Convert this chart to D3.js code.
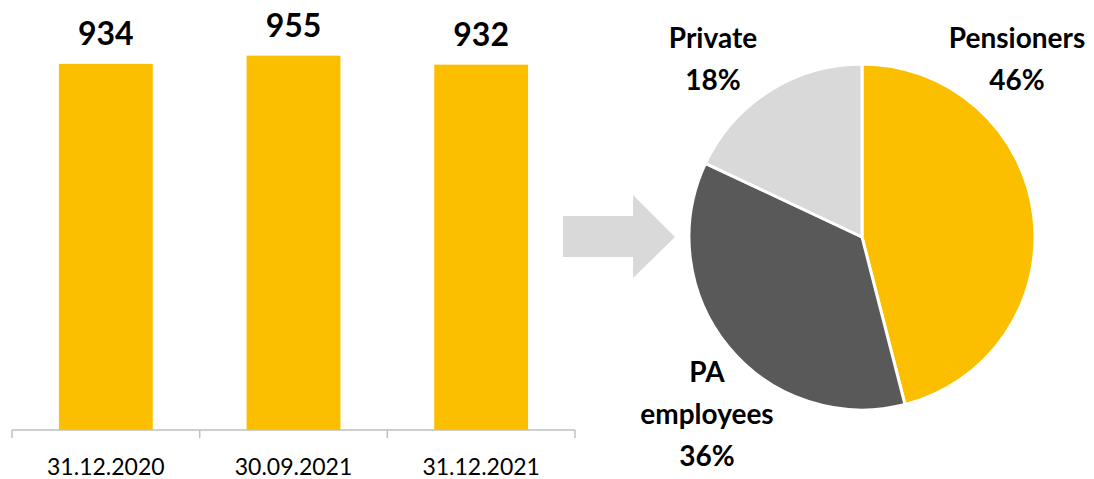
<!DOCTYPE html>
<html>
<head>
<meta charset="utf-8">
<script src="https://cdn.jsdelivr.net/npm/d3@7"></script>
<style>
  body { margin: 0; background: #fff; }
  svg { display: block; font-family: Lato, "Open Sans", sans-serif; }
</style>
</head>
<body>
<div id="chart"></div>
<script>
// bar data
var dates = ["31.12.2020", "30.09.2021", "31.12.2021"];
var totals = [934, 955, 932];

// pie data
var groups = ["Pensioners", "PA employees", "Private"];
var shares = [46, 36, 18];

var width = 1094,
    height = 479;

var svg = d3.select("#chart")
    .append("svg")
    .attr("width", width)
    .attr("height", height);

var yellow = "#fbbf00";

// ---- bars ----
var x = d3.scaleBand()
    .domain(dates)
    .range([12, 575])
    .paddingInner(0.5)
    .paddingOuter(0.25);

var y = d3.scaleLinear()
    .domain([0, 1000])
    .range([430, 38]);

svg.append("g")
    .selectAll("rect")
    .data(totals)
    .enter()
    .append("rect")
    .attr("x", (d, i) => x(dates[i]))
    .attr("y", d => y(d))
    .attr("width", x.bandwidth())
    .attr("height", d => y(0) - y(d))
    .style("fill", yellow);

svg.append("g")
    .selectAll("text")
    .data(totals)
    .enter()
    .append("text")
    .attr("x", (d, i) => x(dates[i]) + x.bandwidth() / 2)
    .attr("y", d => y(d) - 19)
    .attr("text-anchor", "middle")
    .attr("font-size", "32px")
    .attr("font-weight", "bold")
    .style("fill", "#000")
    .text(d => d);

// x axis: grey line with ticks between categories
var axis = svg.append("g").attr("class", "x-axis");
axis.append("line")
    .attr("x1", 12).attr("x2", 575)
    .attr("y1", y(0)).attr("y2", y(0))
    .style("stroke", "#bfbfbf")
    .style("stroke-width", 1.5);

var tickXs = dates.map(d => x(d) + x.bandwidth() / 2 - x.step() / 2);
tickXs.push(x(dates[dates.length - 1]) + x.bandwidth() / 2 + x.step() / 2);

axis.selectAll(".tick")
    .data(tickXs)
    .enter()
    .append("line")
    .attr("x1", d => d).attr("x2", d => d)
    .attr("y1", y(0)).attr("y2", y(0) + 8)
    .style("stroke", "#bfbfbf")
    .style("stroke-width", 1.5);

axis.selectAll("text")
    .data(dates)
    .enter()
    .append("text")
    .attr("x", d => x(d) + x.bandwidth() / 2)
    .attr("y", 475)
    .attr("text-anchor", "middle")
    .attr("font-size", "23px")
    .style("fill", "#000")
    .text(d => d);

// ---- arrow ----
svg.append("path")
    .attr("d", "M563,216 L633,216 L633,195 L675,237 L633,278 L633,257 L563,257 Z")
    .style("fill", "#d9d9d9");

// ---- pie ----
var cx = 862, cy = 237, radius = 173;

var color = d3.scaleOrdinal()
    .domain(groups)
    .range([yellow, "#595959", "#d9d9d9"]);

var pie = d3.pie().sort(null).value(d => d);
var arc = d3.arc().innerRadius(0).outerRadius(radius);

var pieG = svg.append("g")
    .attr("transform", "translate(" + cx + "," + cy + ")");

pieG.selectAll("path")
    .data(pie(shares))
    .enter()
    .append("path")
    .attr("d", arc)
    .style("fill", (d, i) => color(groups[i]))
    .style("stroke", "#fff")
    .style("stroke-width", 3)
    .style("stroke-linejoin", "round");

// pie labels
var pieLabels = [
    { lines: ["Pensioners", shares[0] + "%"], x: 1017, y: 48 },
    { lines: ["PA", "employees", shares[1] + "%"], x: 707, y: 382 },
    { lines: ["Private", shares[2] + "%"], x: 713, y: 48 }
];

svg.append("g")
    .selectAll("text")
    .data(pieLabels)
    .enter()
    .append("text")
    .attr("text-anchor", "middle")
    .attr("font-size", "28px")
    .attr("font-weight", "bold")
    .style("fill", "#000")
    .each(function (d) {
        var t = d3.select(this);
        d.lines.forEach((l, i) => {
            t.append("tspan")
                .attr("x", d.x)
                .attr("y", d.y + i * 42)
                .text(l);
        });
    });
</script>
</body>
</html>
